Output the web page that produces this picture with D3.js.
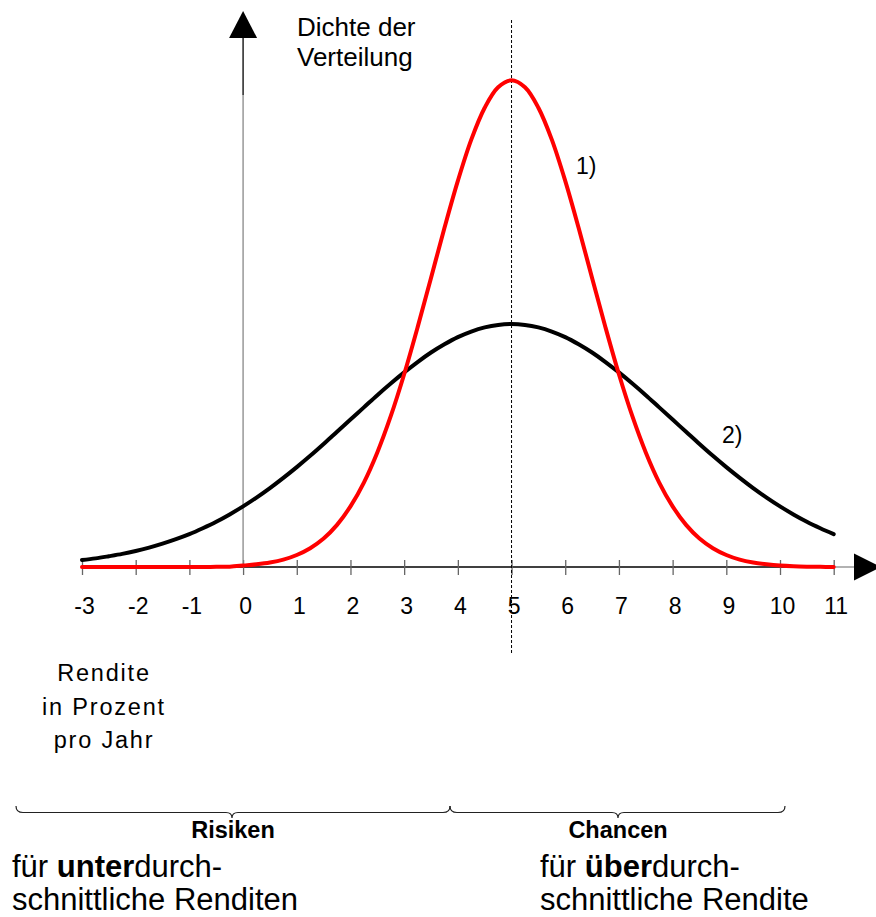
<!DOCTYPE html>
<html lang="de">
<head>
    <meta charset="UTF-8">
    <title>Dichte der Verteilung</title>
    <script src="https://d3js.org/d3.v7.min.js"></script>
    <style>
        body { margin: 0; background: #fff; }
        text { font-family: Arial, "Liberation Sans", sans-serif; fill: #000; }
    </style>
</head>
<body>
    <svg id="chart" width="876" height="917"></svg>

    <script>
        const rendite = [-3, -2.75, -2.5, -2.25, -2, -1.75, -1.5, -1.25, -1, -0.75, -0.5, -0.25,
                         0, 0.25, 0.5, 0.75, 1, 1.25, 1.5, 1.75, 2, 2.25, 2.5, 2.75,
                         3, 3.25, 3.5, 3.75, 4, 4.25, 4.5, 4.75, 5, 5.25, 5.5, 5.75,
                         6, 6.25, 6.5, 6.75, 7, 7.25, 7.5, 7.75, 8, 8.25, 8.5, 8.75,
                         9, 9.25, 9.5, 9.75, 10, 10.25, 10.5, 10.75, 11];
        // Kurve 1) schmale Verteilung (rot)
        const dichte1 = [0, 0, 0, 0, 0, 0, 0, 0, 0, 0, 0.0001, 0.0002,
                         0.0008, 0.0015, 0.0025, 0.0041, 0.0067, 0.0105, 0.0159, 0.0235, 0.0338, 0.0471, 0.0639, 0.0841,
                         0.1075, 0.1336, 0.1612, 0.1890, 0.2153, 0.2383, 0.2561, 0.2675, 0.2714, 0.2675, 0.2561, 0.2383,
                         0.2153, 0.1890, 0.1612, 0.1336, 0.1075, 0.0841, 0.0639, 0.0471, 0.0338, 0.0235, 0.0159, 0.0105,
                         0.0067, 0.0041, 0.0025, 0.0015, 0.0008, 0.0004, 0.0002, 0.0001, 0];
        // Kurve 2) breite Verteilung (schwarz)
        const dichte2 = [0.0039, 0.0048, 0.0060, 0.0073, 0.0089, 0.0108, 0.0130, 0.0155, 0.0183, 0.0216, 0.0252, 0.0293,
                         0.0338, 0.0387, 0.0440, 0.0497, 0.0557, 0.0620, 0.0686, 0.0754, 0.0822, 0.0890, 0.0958, 0.1023,
                         0.1085, 0.1143, 0.1196, 0.1242, 0.1282, 0.1313, 0.1336, 0.1350, 0.1355, 0.1350, 0.1336, 0.1313,
                         0.1282, 0.1242, 0.1196, 0.1143, 0.1085, 0.1023, 0.0958, 0.0890, 0.0822, 0.0754, 0.0686, 0.0620,
                         0.0557, 0.0497, 0.0440, 0.0387, 0.0338, 0.0293, 0.0252, 0.0216, 0.0183];
        const tickWerte = [-3, -2, -1, 0, 1, 2, 3, 4, 5, 6, 7, 8, 9, 10, 11];
        const mittelwert = 5;

        const svg = d3.select("#chart");

        const x = d3.scaleLinear().domain([-3, 11]).range([82, 833.7]);
        const y = d3.scaleLinear().domain([0, 0.3]).range([567, 29]);
        const y0 = y(0);
        const x0 = x(0);

        // x-Achse
        svg.append("line")
           .attr("x1", x(-3)).attr("x2", x(11))
           .attr("y1", y0).attr("y2", y0)
           .attr("stroke", "#000").attr("stroke-width", 1.3);
        svg.append("line")
           .attr("x1", x(11)).attr("x2", 856)
           .attr("y1", y0).attr("y2", y0)
           .attr("stroke", "#888").attr("stroke-width", 1.3);
        svg.append("path")
           .attr("d", `M854,${y0 - 13.5} L881,${y0} L854,${y0 + 13.5} Z`)
           .attr("fill", "#000");

        const xAxis = svg.append("g")
           .attr("transform", `translate(0,${y0})`)
           .call(d3.axisBottom(x).tickValues(tickWerte).tickFormat(d => String(d)).tickSize(8));
        xAxis.select(".domain").remove();
        xAxis.selectAll(".tick line")
             .attr("y1", -7).attr("y2", 8)
             .attr("stroke", "#666").attr("stroke-width", 1.3);
        xAxis.selectAll(".tick text")
             .attr("y", 47).attr("dy", null).attr("dx", 2)
             .style("font-family", "Arial, 'Liberation Sans', sans-serif")
             .style("font-size", "23px")
             .attr("fill", "#000");

        // y-Achse
        svg.append("line")
           .attr("x1", x0).attr("x2", x0)
           .attr("y1", y0).attr("y2", 95)
           .attr("stroke", "#888").attr("stroke-width", 1.3);
        svg.append("line")
           .attr("x1", x0).attr("x2", x0)
           .attr("y1", 95).attr("y2", 36)
           .attr("stroke", "#000").attr("stroke-width", 1.3);
        svg.append("path")
           .attr("d", `M${x0 - 14},38 L${x0},11 L${x0 + 14},38 Z`)
           .attr("fill", "#000");

        svg.append("text").attr("x", 297).attr("y", 36)
           .style("font-size", "26px").text("Dichte der");
        svg.append("text").attr("x", 297).attr("y", 66)
           .style("font-size", "26px").text("Verteilung");

        // Mittelwert (gepunktet)
        svg.append("line")
           .attr("x1", x(mittelwert)).attr("x2", x(mittelwert))
           .attr("y1", 20).attr("y2", 653)
           .attr("stroke", "#000").attr("stroke-width", 1)
           .attr("stroke-dasharray", "3,2");

        // Kurven
        const linie = d3.line()
            .x((d, i) => x(rendite[i]))
            .y(d => y(d))
            .curve(d3.curveCatmullRom.alpha(0.5));

        svg.append("path")
           .datum(dichte2)
           .attr("fill", "none")
           .attr("stroke", "#000")
           .attr("stroke-width", 4)
           .attr("stroke-linecap", "round")
           .attr("d", linie);

        svg.append("path")
           .datum(dichte1)
           .attr("fill", "none")
           .attr("stroke", "#ff0000")
           .attr("stroke-width", 4)
           .attr("stroke-linecap", "round")
           .attr("d", linie);

        svg.append("text").attr("x", 576).attr("y", 174)
           .style("font-size", "23px").text("1)");
        svg.append("text").attr("x", 722).attr("y", 443)
           .style("font-size", "23px").text("2)");

        // Achsenbeschriftung
        const renditeText = ["Rendite", "in Prozent", "pro Jahr"];
        svg.append("g").selectAll("text")
           .data(renditeText)
           .join("text")
           .attr("x", 104)
           .attr("y", (d, i) => 681 + i * 33.5)
           .attr("text-anchor", "middle")
           .style("font-size", "23.5px")
           .style("letter-spacing", "1.8px")
           .text(d => d);

        // Klammern
        function klammer(xa, xs, xb) {
            const top = 806, mid = 812.5, tip = 818;
            return `M${xa},${top} Q${xa},${mid} ${xa + 7},${mid} L${xs - 6},${mid} ` +
                   `Q${xs},${mid} ${xs},${tip} Q${xs},${mid} ${xs + 6},${mid} ` +
                   `L${xb - 7},${mid} Q${xb},${mid} ${xb},${top}`;
        }
        svg.append("path").attr("d", klammer(16, 232, 450))
           .attr("fill", "none").attr("stroke", "#222").attr("stroke-width", 1.2);
        svg.append("path").attr("d", klammer(450, 618, 785))
           .attr("fill", "none").attr("stroke", "#222").attr("stroke-width", 1.2);

        svg.append("text").attr("x", 233).attr("y", 838)
           .attr("text-anchor", "middle")
           .style("font-size", "23.5px").style("font-weight", "bold").text("Risiken");
        svg.append("text").attr("x", 618).attr("y", 838)
           .attr("text-anchor", "middle")
           .style("font-size", "23.5px").style("font-weight", "bold").text("Chancen");

        const t1 = svg.append("text").attr("x", 12).attr("y", 877).style("font-size", "31px");
        t1.append("tspan").text("für ");
        t1.append("tspan").style("font-weight", "bold").text("unter");
        t1.append("tspan").text("durch-");
        svg.append("text").attr("x", 12).attr("y", 910).style("font-size", "31px")
           .text("schnittliche Renditen");

        const t2 = svg.append("text").attr("x", 540).attr("y", 877).style("font-size", "31px");
        t2.append("tspan").text("für ");
        t2.append("tspan").style("font-weight", "bold").text("über");
        t2.append("tspan").text("durch-");
        svg.append("text").attr("x", 540).attr("y", 910).style("font-size", "31px")
           .text("schnittliche Rendite");
    </script>
</body>
</html>
